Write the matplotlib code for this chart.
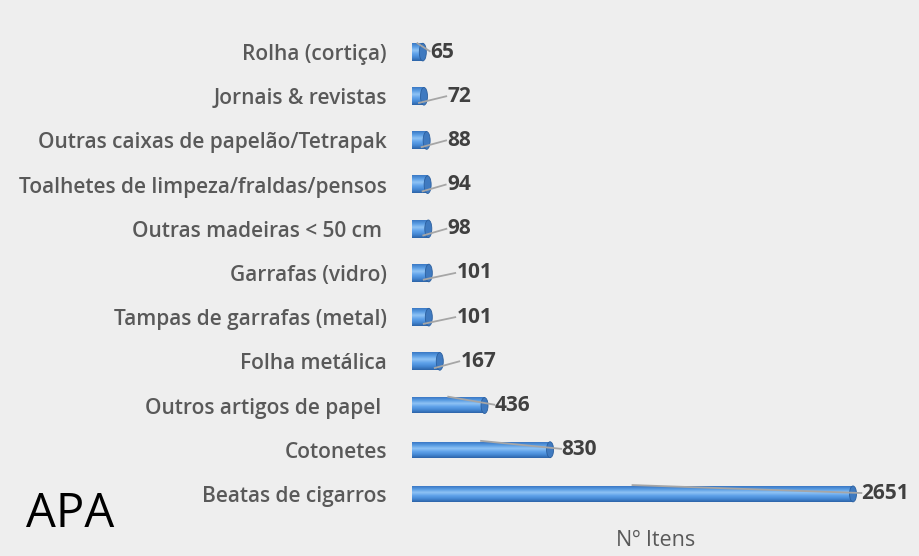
import numpy as np
import matplotlib
matplotlib.use("Agg")
import matplotlib.pyplot as plt
from matplotlib.patches import Ellipse
from matplotlib.colors import LinearSegmentedColormap

categories = ["Beatas de cigarros", "Cotonetes", "Outros artigos de papel ",
              "Folha metálica", "Tampas de garrafas (metal)", "Garrafas (vidro)",
              "Outras madeiras < 50 cm ", "Toalhetes de limpeza/fraldas/pensos",
              "Outras caixas de papelão/Tetrapak", "Jornais & revistas", "Rolha (cortiça)"]
values = [2651, 830, 436, 167, 101, 101, 98, 94, 88, 72, 65]
axis_label = "Nº Itens"
corner_text = "APA"

# label offsets (points) from bar end -- style only
label_offsets = [5, 7, 6, 14, 19, 19, 13, 13, 14, 16, 4]

BG = "#eeeeee"
plt.rcParams["font.family"] = ["Open Sans", "DejaVu Sans"]

fig = plt.figure(figsize=(9.2, 5.56), dpi=100, facecolor=BG)
W, H = 920, 556
left_px, right_px = 412, 880
top_px, bot_px = 30, 516
ax = fig.add_axes([left_px / W, 1 - bot_px / H, (right_px - left_px) / W, (bot_px - top_px) / H])
ax.set_facecolor(BG)

xmax = 2651 * (right_px - left_px) / (853 - left_px)
ax.set_xlim(0, xmax)
ax.set_ylim(-0.5, len(values) - 0.5)

cmap = LinearSegmentedColormap.from_list("cyl", ["#2c63a8", "#4588d4", "#5fa2ea", "#8fc3f5", "#5a9de3", "#3a78c4"])
grad = np.linspace(0, 1, 64).reshape(-1, 1)
h = 0.36
px_per_unit = (right_px - left_px) / xmax
cap_w = 7 / px_per_unit

for i, v in enumerate(values):
    hh = h if v > 300 else h + 0.04
    ax.imshow(grad, cmap=cmap, aspect="auto", extent=[0, v, i - hh / 2, i + hh / 2],
              origin="lower", zorder=2, interpolation="bilinear")
    ax.add_patch(Ellipse((v, i), cap_w, hh, facecolor="#3f7ac0", edgecolor="#2b5f9e",
                         linewidth=0.6, zorder=3))
    ax.annotate(f"{v}", xy=(v, i), xytext=(label_offsets[i] + 1, 0), textcoords="offset points",
                ha="left", va="center", fontsize=15, fontweight="bold", color="#404040", zorder=4)
    if label_offsets[i] > 8:
        x1 = v + (label_offsets[i]) / 0.72 / px_per_unit
        ax.plot([v - 5 / px_per_unit, x1], [i - 0.15, i], color="#a6a6a6", lw=1.3, zorder=3.5)
    else:
        x1 = v + (label_offsets[i] + 1) / 0.72 / px_per_unit
        ax.plot([v * 0.5, x1], [i + 0.2, i + 0.02], color="#a6a6a6", lw=1.3, zorder=3.5)

ax.set_yticks(range(len(values)))
ax.set_yticklabels(categories, fontsize=15, color="#595959", fontweight="semibold")
ax.tick_params(axis="y", length=0, pad=18)
ax.set_xticks([])
for s in ax.spines.values():
    s.set_visible(False)

fig.text(656 / W, 1 - 540 / H, axis_label, ha="center", va="center", fontsize=15.5, color="#595959")
fig.text(26 / W, 1 - 514 / H, corner_text, ha="left", va="center", fontsize=34, color="black")

fig.savefig("out.png", dpi=100, facecolor=BG)
